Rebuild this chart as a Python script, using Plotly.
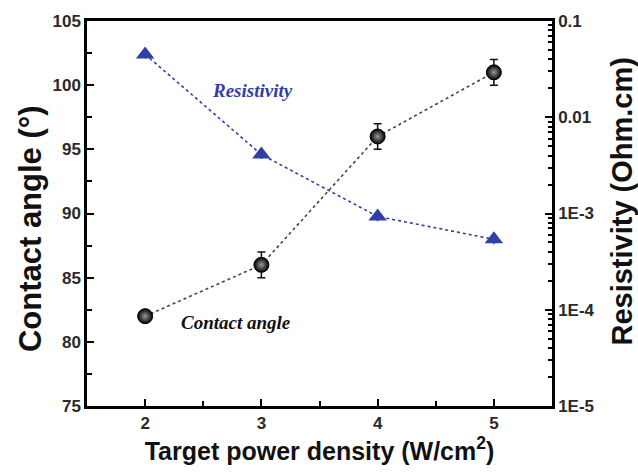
import plotly.graph_objects as go

power = [2, 3, 4, 5]
contact_angle = [82, 86, 96, 101]
contact_err = [0.3, 1.0, 1.0, 1.0]
resistivity = [0.045, 0.0041, 0.00093, 0.00054]
resist_err = [0.004, 0.0004, 0.0001, 0.00006]

x_ticks = [2, 3, 4, 5]
y_ticks = [75, 80, 85, 90, 95, 100, 105]
y2_tickvals = [1e-5, 1e-4, 1e-3, 1e-2, 1e-1]
y2_ticktext = ["1E-5", "1E-4", "1E-3", "0.01", "0.1"]

blue = "#2f3fa3"
tickfont = dict(family="Liberation Sans, Arial", size=17, color="#2a2a2a", weight="bold")


def tfont(size):
    return dict(family="Liberation Sans, Arial", size=size, color="#111111")


fig = go.Figure()

fig.add_trace(go.Scatter(
    x=power, y=contact_angle, mode="lines+markers", name="Contact angle",
    line=dict(color="#444444", width=1.6, dash="dot"),
    marker=dict(symbol="circle", size=15, color="#000000",
                gradient=dict(type="radial", color="#9a9a9a"),
                line=dict(color="#000000", width=1)),
    error_y=dict(type="data", array=contact_err, visible=True, color="#111111",
                 thickness=1.5, width=4),
    yaxis="y", showlegend=False,
))

fig.add_trace(go.Scatter(
    x=power, y=resistivity, mode="lines+markers", name="Resistivity",
    line=dict(color=blue, width=1.6, dash="dot"),
    marker=dict(symbol="triangle-up", size=16, color=blue),
    error_y=dict(type="data", array=resist_err, visible=True, color=blue,
                 thickness=1.5, width=0),
    yaxis="y2", showlegend=False,
))

minor_log = [k * 10.0 ** e for e in range(-5, -1) for k in range(2, 10)]

fig.update_layout(
    width=638, height=473,
    margin=dict(l=87, r=86, t=18, b=67),
    paper_bgcolor="white", plot_bgcolor="white",
    xaxis=dict(
        range=[1.5, 5.5], tickvals=x_ticks, ticks="inside", ticklen=7, tickwidth=2,
        tickcolor="black", showline=True, linewidth=2.5, linecolor="black", mirror=True,
        showgrid=False, zeroline=False, tickfont=tickfont,
        minor=dict(tickvals=[2.5, 3.5, 4.5], ticks="inside", ticklen=5, tickwidth=2, tickcolor="black"),
        title=dict(text="<b>Target power density (W/cm<sup>2</sup>)</b>", font=tfont(25), standoff=8),
    ),
    yaxis=dict(
        range=[75, 105], tickvals=y_ticks, ticks="inside", ticklen=7, tickwidth=2,
        tickcolor="black", showline=True, linewidth=2.5, linecolor="black",
        showgrid=False, zeroline=False, tickfont=tickfont,
        minor=dict(dtick=2.5, ticks="inside", ticklen=5, tickwidth=2, tickcolor="black"),
    ),
    yaxis2=dict(
        type="log", range=[-5, -1], overlaying="y", side="right",
        tickvals=y2_tickvals, ticktext=y2_ticktext, ticks="inside", ticklen=7, tickwidth=2,
        tickcolor="black", showline=True, linewidth=2.5, linecolor="black",
        showgrid=False, zeroline=False, tickfont=tickfont,
        minor=dict(tickvals=minor_log, ticks="inside", ticklen=4, tickwidth=1.5, tickcolor="black"),
    ),
    annotations=[
        dict(x=-0.1226, y=0.462, xref="paper", yref="paper", text="<b>Contact angle (°)</b>",
             textangle=-90, showarrow=False, font=tfont(31), xanchor="center", yanchor="middle"),
        dict(x=1.1505, y=0.531, xref="paper", yref="paper", text="<b>Resistivity (Ohm.cm)</b>",
             textangle=-90, showarrow=False, font=tfont(29), xanchor="center", yanchor="middle"),
        dict(x=2.92, y=99.6, xref="x", yref="y", text="<b><i>Resistivity</i></b>",
             showarrow=False, font=dict(family="Liberation Serif, Times New Roman", size=19, color=blue)),
        dict(x=2.78, y=81.5, xref="x", yref="y", text="<b><i>Contact angle</i></b>",
             showarrow=False, font=dict(family="Liberation Serif, Times New Roman", size=19, color="#111111")),
    ],
)

fig.write_html("out.html")
